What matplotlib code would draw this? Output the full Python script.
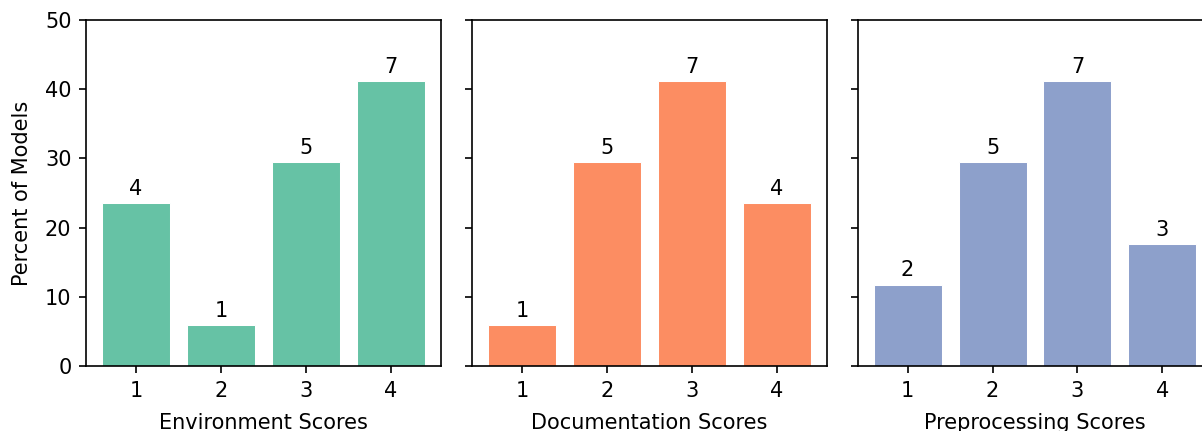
import matplotlib
matplotlib.use("Agg")
import matplotlib.pyplot as plt

scores = [1, 2, 3, 4]
env_counts = [4, 1, 5, 7]
doc_counts = [1, 5, 7, 4]
pre_counts = [2, 5, 7, 3]
xlabels = ["Environment Scores", "Documentation Scores", "Preprocessing Scores"]
colors = ["#66c2a5", "#fc8d62", "#8da0cb"]
total = 17

fig = plt.figure(figsize=(1202 / 150, 431 / 150), dpi=150)
W = 355 / 1202
B = 1 - 366 / 431
H = 346 / 431
lefts = [86 / 1202, 472 / 1202, 857.5 / 1202]
axes = []
for i, (counts, lab, col) in enumerate(zip([env_counts, doc_counts, pre_counts], xlabels, colors)):
    ax = fig.add_axes([lefts[i], B, W, H], sharey=axes[0] if axes else None)
    pct = [c / total * 100 for c in counts]
    bars = ax.bar(scores, pct, width=0.8, color=col, edgecolor="white", linewidth=0.5)
    ax.bar_label(bars, labels=[str(c) for c in counts], padding=2)
    ax.set_xticks(scores)
    ax.set_xlabel(lab, labelpad=6)
    ax.set_ylim(0, 50)
    if i == 0:
        ax.set_ylabel("Percent of Models", labelpad=6)
    else:
        ax.tick_params(labelleft=False)
    axes.append(ax)

fig.savefig("out.png", dpi=150)
